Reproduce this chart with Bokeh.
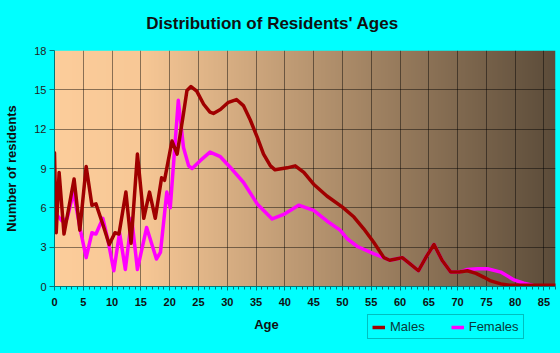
import numpy as np
from bokeh.plotting import figure
from bokeh.layouts import column
from bokeh.models import (Range1d, FixedTicker, SingleIntervalTicker, Legend, LegendItem,
                          Label)
from bokeh.embed import file_html
from bokeh.resources import INLINE

# ---- data ----
male_age = [0, 0.3, 0.8, 1.65, 3.4, 4.4, 5.5, 6.5, 7.2, 8.5, 9.5, 10.5, 11.2, 12.4, 13.3,
            14.4, 15.5, 16.5, 17.5, 18.6, 19.1, 20.4, 21.3, 22.4, 23.0, 23.7, 24.7, 25.9,
            27.0, 27.6, 28.8, 30.2, 31.6, 32.8, 34.0, 35.2, 36.3, 37.5, 38.3, 40.4, 41.8,
            43.3, 45.0, 47.3, 50.0, 52.0, 53.7, 55.4, 57.2, 58.2, 59.3, 60.4, 61.8, 63.2,
            64.6, 65.9, 67.3, 68.8, 70.3, 71.7, 73.2, 74.6, 75.6, 77.5, 79.0, 87.0]
male_val = [10.2, 4.1, 8.7, 4.0, 8.2, 4.3, 9.15, 6.2, 6.3, 4.6, 3.2, 4.1, 4.0, 7.2, 3.3,
            10.1, 5.2, 7.2, 5.2, 8.3, 8.1, 11.1, 10.1, 13.2, 14.95, 15.25, 14.9, 13.9,
            13.3, 13.2, 13.5, 14.05, 14.26, 13.8, 12.7, 11.4, 10.1, 9.2, 8.9, 9.05, 9.2,
            8.7, 7.8, 6.9, 6.05, 5.3, 4.4, 3.4, 2.2, 2.0, 2.1, 2.2, 1.7, 1.2,
            2.3, 3.2, 2.0, 1.1, 1.1, 1.2, 1.0, 0.7, 0.45, 0.2, 0.1, 0.1]

female_age = [0, 0.5, 1.3, 2.2, 3.3, 4.5, 5.5, 6.5, 7.2, 8.4, 9.3, 10.3, 11.3, 12.3, 13.4,
              14.4, 16.0, 17.7, 18.4, 19.5, 20.1, 21.5, 22.4, 23.3, 23.9, 25.3, 27.0, 28.8,
              30.5, 32.8, 35.2, 37.8, 39.8, 42.4, 45.0, 47.3, 49.6, 50.8, 52.6, 55.4, 57.2,
              58.2, 59.3, 60.4, 61.8, 63.2, 64.6, 65.9, 67.3, 68.8, 70.3, 71.7, 73.5, 75.2,
              77.5, 79.8, 81.5, 83.0]
female_val = [6.0, 5.4, 5.0, 5.2, 7.2, 4.3, 2.2, 4.1, 4.0, 5.2, 3.5, 1.2, 4.1, 1.3, 5.2,
              1.3, 4.5, 2.1, 2.6, 7.2, 6.0, 14.2, 10.6, 9.2, 9.0, 9.6, 10.25, 9.9,
              9.1, 7.95, 6.3, 5.15, 5.5, 6.2, 5.8, 5.0, 4.3, 3.65, 3.05, 2.5, 2.2,
              2.0, 2.1, 2.2, 1.7, 1.2, 2.3, 3.2, 2.0, 1.1, 1.1, 1.3, 1.35, 1.35,
              1.1, 0.5, 0.25, 0.1]

y_ticks = [0, 3, 6, 9, 12, 15, 18]
series_names = ["Males", "Females"]
X_MAX = 87
Y_MAX = 18

MALE_COLOR = "#A00000"
FEMALE_COLOR = "#FF00FF"
BG = "#00FFFF"
FONT = "Liberation Sans"


def strip(height):
    f = figure(width=560, height=height, output_backend="svg", toolbar_location=None,
               x_range=Range1d(0, 560), y_range=Range1d(0, height),
               min_border=0, min_border_left=0, min_border_right=0,
               min_border_top=0, min_border_bottom=0)
    f.frame_align = False
    f.axis.visible = False
    f.grid.visible = False
    f.background_fill_color = BG
    f.border_fill_color = BG
    f.outline_line_color = None
    f.styles = {"background-color": BG}
    return f


# top strip with the title
t = strip(40)
t.add_layout(Label(x=272, y=17, text="Distribution of Residents' Ages", text_align="center",
                   text_baseline="middle", text_font=FONT, text_font_size="17px",
                   text_font_style="bold", text_color="#111111"))

p = figure(width=560, height=273, output_backend="svg", toolbar_location=None,
           x_range=Range1d(0, X_MAX), y_range=Range1d(0, Y_MAX),
           min_border_left=54, min_border_right=5, min_border_top=10, min_border_bottom=27)
p.background_fill_color = BG
p.border_fill_color = BG
p.outline_line_color = None
p.frame_align = False
p.styles = {"background-color": BG}

# gradient background of the plotting area
n = 300
xs = np.linspace(0, 1, n) * X_MAX
light = np.array([252, 205, 155], dtype=float)
mid = np.array([248, 200, 150], dtype=float)
dark = np.array([92, 76, 58], dtype=float)
cols = np.zeros((n, 3))
for i, xv in enumerate(xs):
    if xv <= 15:
        cols[i] = light + (mid - light) * (xv / 15)
    else:
        cols[i] = mid + (dark - mid) * ((xv - 15) / (X_MAX - 15))
img = np.zeros((2, n), dtype=np.uint32)
view = img.view(dtype=np.uint8).reshape((2, n, 4))
for r in range(2):
    view[r, :, 0] = cols[:, 0].astype(np.uint8)
    view[r, :, 1] = cols[:, 1].astype(np.uint8)
    view[r, :, 2] = cols[:, 2].astype(np.uint8)
    view[r, :, 3] = 255
bg = p.image_rgba(image=[img], x=0, y=0, dw=X_MAX, dh=Y_MAX)
bg.level = "image"

# grid
p.xgrid.ticker = SingleIntervalTicker(interval=5)
p.ygrid.ticker = FixedTicker(ticks=y_ticks)
for g in (p.xgrid, p.ygrid):
    g.grid_line_color = "#000000"
    g.grid_line_alpha = 0.45
    g.grid_line_width = 1

# axes
ax = p.xaxis[0]
ax.ticker = SingleIntervalTicker(interval=5, num_minor_ticks=5)
ax.major_label_text_font = FONT
ax.major_label_text_font_style = "bold"
ax.major_label_text_font_size = "11px"
ax.major_label_text_color = "#111111"
ax.major_label_standoff = 7
ax.axis_line_color = "#007777"
ax.major_tick_line_color = "#007777"
ax.minor_tick_line_color = "#007777"
ax.major_tick_out = 4
ax.major_tick_in = 0
ax.minor_tick_out = 3
ax.minor_tick_in = 0

ay = p.yaxis[0]
ay.ticker = FixedTicker(ticks=y_ticks)
ay.major_label_text_font = FONT
ay.major_label_text_font_size = "11px"
ay.major_label_text_color = "#222222"
ay.major_label_standoff = 3
ay.axis_line_color = "#007777"
ay.major_tick_line_color = "#007777"
ay.minor_tick_line_color = None
ay.major_tick_out = 5
ay.major_tick_in = 0
ay.axis_label = "Number of residents"
ay.axis_label_text_font = FONT
ay.axis_label_text_font_style = "bold"
ay.axis_label_text_font_size = "13px"
ay.axis_label_text_color = "#111111"
ay.axis_label_standoff = 12

# lines
rf = p.line(female_age, female_val, line_color=FEMALE_COLOR, line_width=3.5,
            line_join="round", line_cap="round")
rm = p.line(male_age, male_val, line_color=MALE_COLOR, line_width=3.5,
            line_join="round", line_cap="round")

# bottom strip: x-axis title and legend
q = strip(40)
q.add_layout(Label(x=266, y=29, text="Age", text_align="center", text_baseline="middle",
                   text_font=FONT, text_font_style="bold", text_font_size="13px",
                   text_color="#111111"))

# legend proxies (no visible data, only used for the legend swatches)
nan2 = [float("nan"), float("nan")]
lm = q.line(x=nan2, y=nan2, line_color=MALE_COLOR, line_width=3.5)
lf = q.line(x=nan2, y=nan2, line_color=FEMALE_COLOR, line_width=3.5)
legend = Legend(items=[LegendItem(label=series_names[0], renderers=[lm]),
                       LegendItem(label=series_names[1], renderers=[lf])],
                orientation="horizontal", location=(367, 14),
                background_fill_alpha=0, border_line_color="#008080", border_line_width=1,
                label_text_font=FONT, label_text_font_size="13px",
                label_text_color="#0a3a3a",
                glyph_width=13, glyph_height=10, padding=4, spacing=26, margin=0,
                label_standoff=5, label_height=14)
q.add_layout(legend, "center")

layout = column(t, p, q, spacing=0)
layout.styles = {"background-color": BG}

open("out.html", "w").write(file_html(layout, INLINE))
